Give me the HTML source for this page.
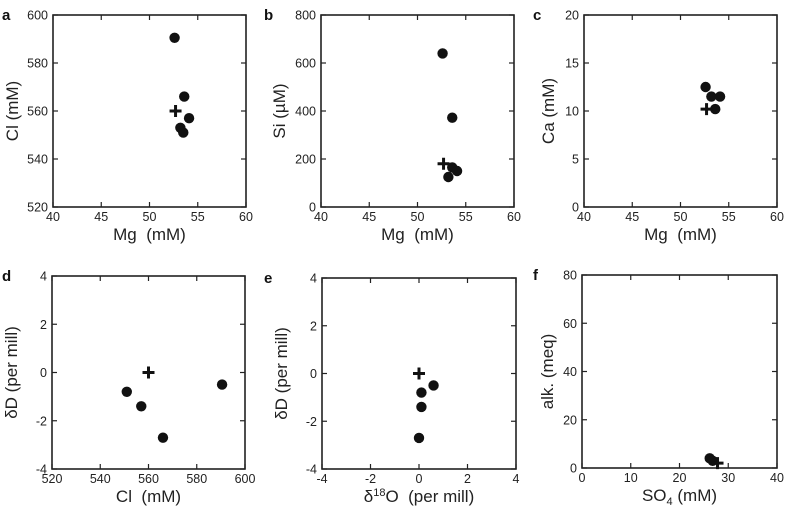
<!DOCTYPE html>
<html><head><meta charset="utf-8"><style>
body{margin:0;background:#fff;}
svg{display:block;font-family:"Liberation Sans",Arial,sans-serif;}
</style></head><body>
<svg id="fig" width="785" height="513" viewBox="0 0 785 513"></svg>
<script>
const NS="http://www.w3.org/2000/svg";
const svg=document.getElementById('fig');

// Panel a: Mg vs Cl
const aMg=[52.6,53.6,54.1,53.2,53.5];
const aCl=[590.5,566,557,553,551];
const aRefMg=[52.7]; const aRefCl=[560];
// Panel b: Mg vs Si
const bMg=[52.6,53.6,53.6,54.1,53.2];
const bSi=[640,372,165,150,125];
const bRefMg=[52.7]; const bRefSi=[180];
// Panel c: Mg vs Ca
const cMg=[52.6,53.2,54.1,53.6];
const cCa=[12.5,11.5,11.5,10.2];
const cRefMg=[52.7]; const cRefCa=[10.2];
// Panel d: Cl vs dD
const dCl=[551,557,566,590.5];
const dD=[-0.8,-1.4,-2.7,-0.5];
const dRefCl=[560]; const dRefD=[0];
// Panel e: d18O vs dD
const eO=[0.1,0.1,0,0.6];
const eD=[-0.8,-1.4,-2.7,-0.5];
const eRefO=[0]; const eRefD=[0];
// Panel f: SO4 vs alk
const fSO4=[26.2,26.8];
const fAlk=[4,3];
const fRefSO4=[27.8]; const fRefAlk=[2];

const mgTicks=[40,45,50,55,60];
const clTicks=[520,540,560,580,600];
const siTicks=[0,200,400,600,800];
const caTicks=[0,5,10,15,20];
const dTicks=[-4,-2,0,2,4];
const so4Ticks=[0,10,20,30,40];
const alkTicks=[0,20,40,60,80];

function el(tag,attrs,parent){const e=document.createElementNS(NS,tag);for(const k in attrs)e.setAttribute(k,attrs[k]);(parent||svg).appendChild(e);return e;}

function panel(p){
  const g=el('g',{});
  
  
  const xs=v=>p.L+(v-p.xt[0])/(p.xt[p.xt.length-1]-p.xt[0])*(p.R-p.L);
  const ys=v=>p.B-(v-p.yt[0])/(p.yt[p.yt.length-1]-p.yt[0])*(p.B-p.T);
  const fr=el('rect',{x:p.L,y:p.T,width:p.R-p.L,height:p.B-p.T,fill:'none',stroke:'#222','stroke-width':1.6},g);
  
  
  p.xt.forEach(v=>{const x=xs(v);
    el('line',{x1:x,x2:x,y1:p.B,y2:p.B-5,stroke:'#222','stroke-width':1.2},g);
    el('line',{x1:x,x2:x,y1:p.T,y2:p.T+5,stroke:'#222','stroke-width':1.2},g);
    const t=el('text',{x:x,y:p.B+14,'font-size':12.5,'text-anchor':'middle',fill:'#222'},g);t.textContent=v;
    
    
  });
  p.yt.forEach(v=>{const y=ys(v);
    el('line',{x1:p.L,x2:p.L+5,y1:y,y2:y,stroke:'#222','stroke-width':1.2},g);
    el('line',{x1:p.R,x2:p.R-5,y1:y,y2:y,stroke:'#222','stroke-width':1.2},g);
    const t=el('text',{x:p.L-5,y:y+4.5,'font-size':12.5,'text-anchor':'end',fill:'#222'},g);t.textContent=v;
    
    
  });
  const xt=el('text',{x:(p.L+p.R)/2,y:p.B+33,'font-size':17,'text-anchor':'middle',fill:'#222'},g);
  xt.innerHTML=p.xl;
  
  
  const yc=(p.T+p.B)/2, yx=p.yx;
  const yt=el('text',{x:yx,y:yc,'font-size':17,'text-anchor':'middle',fill:'#222',transform:`rotate(-90 ${yx} ${yc})`},g);
  yt.innerHTML=p.yl;
  
  
  const lt=el('text',{x:p.lx,y:p.T+5,'font-size':15,'font-weight':'bold',fill:'#111'},g);
  lt.textContent=p.id;
  
  
  p.px.forEach((v,i)=>{
    const c=el('circle',{cx:xs(v),cy:ys(p.py[i]),r:5.2,fill:'#111'},g);
    
    
  });
  p.rx.forEach((v,i)=>{
    const x=xs(v),y=ys(p.ry[i]);
    const pl=el('path',{d:`M${x-6} ${y}H${x+6}M${x} ${y-6}V${y+6}`,stroke:'#111','stroke-width':3,fill:'none'},g);
    
    
  });
}

panel({id:'a',L:53,R:246,T:15,B:207,xt:mgTicks,yt:clTicks,px:aMg,py:aCl,rx:aRefMg,ry:aRefCl,xl:'Mg&#160;&#160;(mM)',yl:'Cl (mM)',yx:18,lx:2});
panel({id:'b',L:321,R:514,T:15,B:207,xt:mgTicks,yt:siTicks,px:bMg,py:bSi,rx:bRefMg,ry:bRefSi,xl:'Mg&#160;&#160;(mM)',yl:'Si (µM)',yx:285,lx:264});
panel({id:'c',L:584,R:777,T:15,B:207,xt:mgTicks,yt:caTicks,px:cMg,py:cCa,rx:cRefMg,ry:cRefCa,xl:'Mg&#160;&#160;(mM)',yl:'Ca (mM)',yx:554,lx:533});
panel({id:'d',L:52,R:245,T:276,B:469,xt:clTicks,yt:dTicks,px:dCl,py:dD,rx:dRefCl,ry:dRefD,xl:'Cl&#160;&#160;(mM)',yl:'δD (per mill)',yx:17,lx:2});
panel({id:'e',L:322,R:516,T:278,B:469,xt:dTicks,yt:dTicks,px:eO,py:eD,rx:eRefO,ry:eRefD,xl:'δ<tspan font-size="11" dy="-6">18</tspan><tspan dy="6">O&#160;&#160;(per mill)</tspan>',yl:'δD (per mill)',yx:287,lx:264});
panel({id:'f',L:582,R:777,T:275,B:468,xt:so4Ticks,yt:alkTicks,px:fSO4,py:fAlk,rx:fRefSO4,ry:fRefAlk,xl:'SO<tspan font-size="11" dy="4">4</tspan><tspan dy="-4"> (mM)</tspan>',yl:'alk. (meq)',yx:553,lx:533});
</script>
</body></html>
